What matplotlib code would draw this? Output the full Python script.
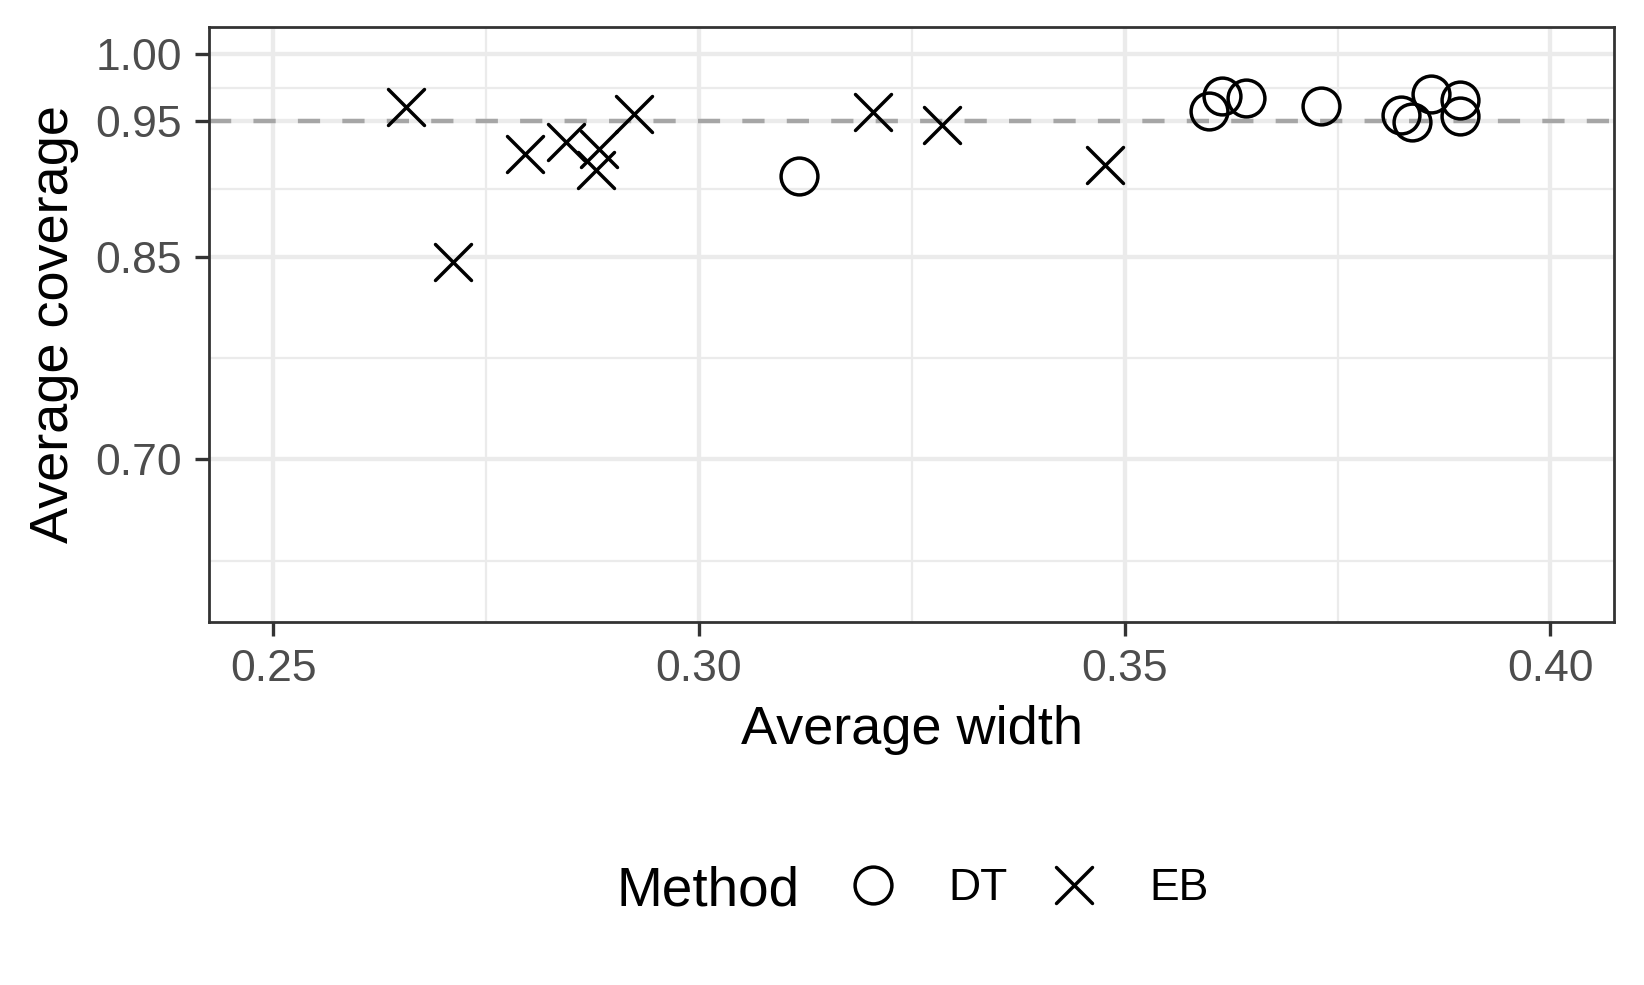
import matplotlib
matplotlib.use("Agg")
import matplotlib.pyplot as plt
from matplotlib.markers import MarkerStyle

plt.rcParams['font.family'] = ['Liberation Sans', 'DejaVu Sans']

# valores
eb_width = [0.2656, 0.2711, 0.2796, 0.2844, 0.2883, 0.2879, 0.2924, 0.3205, 0.3285, 0.3477]
eb_cover = [0.9608, 0.8463, 0.9260, 0.9346, 0.9294, 0.9143, 0.9554, 0.9566, 0.9476, 0.9180]
dt_width = [0.3118, 0.3599, 0.3614, 0.3642, 0.3731, 0.3824, 0.3837, 0.3860, 0.3894, 0.3894]
dt_cover = [0.9093, 0.9574, 0.9689, 0.9672, 0.9615, 0.9549, 0.9493, 0.9701, 0.9657, 0.9542]

x_breaks = [0.25, 0.30, 0.35, 0.40]
x_minor = [0.275, 0.325, 0.375]
y_breaks = [0.70, 0.85, 0.95, 1.00]
y_minor = [0.625, 0.775, 0.90, 0.975]
target = 0.95

W, H = 1644, 985
fig = plt.figure(figsize=(W / 100, H / 100), dpi=100)
ax = fig.add_axes([209.3 / W, 1 - 621.7 / H, (1614.3 - 209.3) / W, (621.7 - 26.7) / H])

# grade estilo theme_bw
for v in x_minor:
    ax.axvline(v, color='#EBEBEB', lw=1.6, zorder=0)
for v in y_minor:
    ax.axhline(v, color='#EBEBEB', lw=1.6, zorder=0)
for v in x_breaks:
    ax.axvline(v, color='#EBEBEB', lw=3.1, zorder=0)
for v in y_breaks:
    ax.axhline(v, color='#EBEBEB', lw=3.1, zorder=0)

ax.axhline(target, color='#A6A6A6', lw=3.2, ls=(0, (5, 5)), zorder=1)

ms = 26.5
h_dt, = ax.plot(dt_width, dt_cover, ls='none', marker='o', ms=ms, mfc='none',
                mec='black', mew=2.5, zorder=3, label='DT')
h_eb, = ax.plot(eb_width, eb_cover, ls='none',
                marker=MarkerStyle('x', capstyle='round'), ms=ms, mec='black',
                mew=2.5, zorder=3, label='EB')

ax.set_xlim(0.2425, 0.4075)
ax.set_ylim(0.58, 1.02)
ax.set_xticks(x_breaks)
ax.set_xticklabels(['%.2f' % v for v in x_breaks])
ax.set_yticks(y_breaks)
ax.set_yticklabels(['%.2f' % v for v in y_breaks])
ax.tick_params(axis='both', length=10, width=2.4, color='#333333',
               labelsize=32, labelcolor='#4D4D4D', pad=9.5)
for s in ax.spines.values():
    s.set_color('#333333')
    s.set_linewidth(2)
    s.set_zorder(4)

fig.text(911.8 / W, 1 - 744 / H, 'Average width', fontsize=39, ha='center',
         va='baseline')
fig.text(29 / W, 1 - 324 / H, 'Average coverage', fontsize=39, rotation=90,
         ha='left', va='center')

fig.text(616 / W, 1 - 905 / H, 'Method', fontsize=39.5, ha='left', va='baseline')
fig.legend(handles=[h_dt, h_eb], labels=['DT', 'EB'], ncol=2, frameon=False,
           loc='center left', bbox_to_anchor=(850.5 / W, 1 - 889 / H),
           fontsize=32, handlelength=1.0, handletextpad=1.2,
           columnspacing=1.0, borderpad=0, borderaxespad=0, numpoints=1)

fig.savefig('out.png', dpi=100)
